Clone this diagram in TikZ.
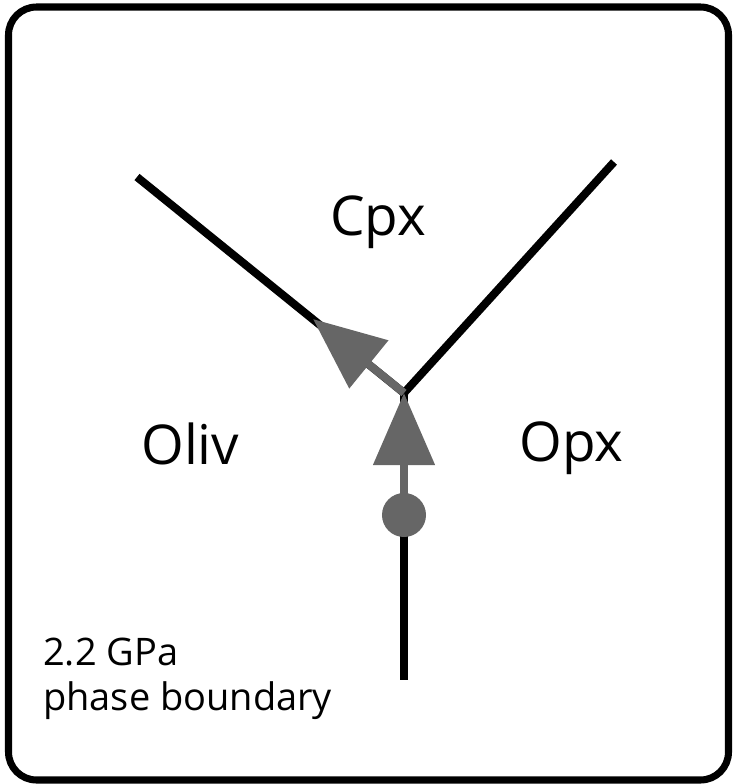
\documentclass[tikz,border=0pt]{standalone}
\usepackage{fontspec}
\setmainfont{Open Sans}
\usetikzlibrary{arrows.meta}
\definecolor{flowgray}{RGB}{102,102,102}

\begin{document}
\begin{tikzpicture}[x=0.025cm,y=-0.025cm,
    boundary/.style={black,line width=5.7pt},
    flow/.style={flowgray,line width=5.7pt,-{Triangle[length=1.8cm,width=1.5cm]}},
    phase/.style={anchor=base west,inner sep=0pt,font=\fontsize{39}{44}\selectfont},
    note/.style={anchor=base west,inner sep=0pt,font=\fontsize{27}{30}\selectfont}]
            \useasboundingbox (0,0) rectangle (732,784);
            \draw [black,line width=5pt,rounded corners=0.7cm] (8.5,7) rectangle (728.5,780);
            \coordinate (J) at (404,393);
            \coordinate (L) at (137,177);
            \coordinate (R) at (614,162);
            \coordinate (B) at (404,680);
            \coordinate (T) at (313,319);
            \draw [boundary] (L) -- (J) -- (R);
            \draw [boundary] (J) -- (B);
            \node [circle,fill=flowgray,minimum size=1.1cm,inner sep=0pt] (dot) at (404,515) {};
            \draw [flow] (dot.center) -- (J);
            \draw [flow] (J) -- (T);
            \node [phase] (cpx) at (330,235) {Cpx};
            \node [phase] (oliv) at (141,464) {Oliv};
            \node [phase] (opx) at (519,461) {Opx};
            \node [note] (gpa) at (43,665) {2.2 GPa};
            \node [note] (pb) at (43,710) {phase boundary};
\end{tikzpicture}
\end{document}
